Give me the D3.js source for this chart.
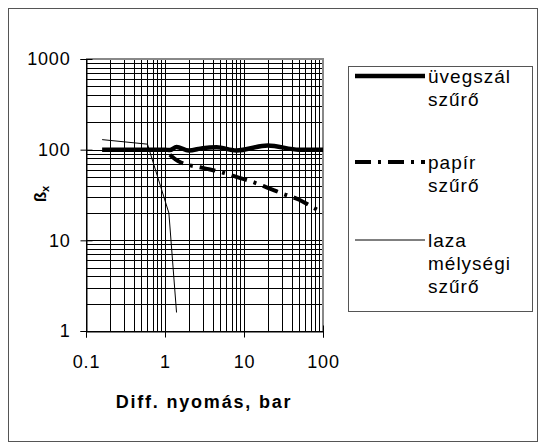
<!DOCTYPE html>
<html>
<head>
<meta charset="utf-8">
<script src="https://cdn.jsdelivr.net/npm/d3@7"></script>
<style>
  body { margin: 0; background: #fff; }
  text { font-family: "Liberation Sans", Arial, sans-serif; }
</style>
</head>
<body>
<div class="chart"></div>
<script>
// data
const xTickLabels = [0.1, 1, 10, 100];
const yTickLabels = [1, 10, 100, 1000];

const glassX = [0.16, 1, 1.15, 1.4, 2, 3, 4.5, 8, 20, 50, 100];
const glassY = [100, 100, 99, 107, 98, 104, 106, 98, 111, 100, 100];

const paperX = [1.15, 1.5, 3, 5, 8, 12, 20, 30, 50, 75, 100];
const paperY = [88, 74, 63, 57, 50, 45, 38, 33, 28, 23, 20];

const depthX = [0.16, 0.6, 1.12, 1.4];
const depthY = [129, 115, 20, 1.6];

const seriesNames = [["üvegszál", "szűrő"], ["papír", "szűrő"], ["laza", "mélységi", "szűrő"]];

const svg = d3.select(".chart")
  .append("svg")
  .attr("width", 539)
  .attr("height", 448);

// outer frame
svg.append("rect")
  .attr("x", 8.5).attr("y", 8.5)
  .attr("width", 529).attr("height", 433)
  .attr("fill", "none")
  .attr("stroke", "#555")
  .attr("stroke-width", 1);

const x = d3.scaleLog().domain([0.1, 100]).range([86, 323]);
const y = d3.scaleLog().domain([1, 1000]).range([331, 59]);

// grid lines (major + minor)
svg.append("g")
  .selectAll("line")
  .data(x.ticks())
  .join("line")
  .attr("x1", d => Math.round(x(d)) + 0.5)
  .attr("x2", d => Math.round(x(d)) + 0.5)
  .attr("y1", y(1000))
  .attr("y2", y(1))
  .attr("stroke", "#000")
  .attr("stroke-width", 1);

svg.append("g")
  .selectAll("line")
  .data(y.ticks())
  .join("line")
  .attr("y1", d => Math.round(y(d)) + 0.5)
  .attr("y2", d => Math.round(y(d)) + 0.5)
  .attr("x1", x(0.1))
  .attr("x2", x(100))
  .attr("stroke", "#000")
  .attr("stroke-width", 1);

// plot border top/right in grey
svg.append("path")
  .attr("d", `M${x(0.1)},${y(1000)}H${x(100)}V${y(1)}`)
  .attr("fill", "none")
  .attr("stroke", "#888")
  .attr("stroke-width", 2);

// axes
const xAxis = svg.append("g")
  .attr("transform", `translate(0,${Math.round(y(1)) + 0.5})`)
  .call(d3.axisBottom(x).tickValues(xTickLabels).tickFormat(d => d).tickSize(6).tickPadding(18));
xAxis.select(".domain").attr("stroke", "#000");
xAxis.selectAll(".tick line").attr("y1", -6);
xAxis.selectAll("text").style("font-size", "18px").attr("fill", "#000").style("letter-spacing", "0.8px");

const yAxis = svg.append("g")
  .attr("transform", `translate(${Math.round(x(0.1)) + 0.5},0)`)
  .call(d3.axisLeft(y).tickValues(yTickLabels).tickFormat(d => d).tickSize(6).tickPadding(10));
yAxis.select(".domain").attr("stroke", "#000");
yAxis.selectAll(".tick line").attr("x1", 6);
yAxis.selectAll("text").style("font-size", "18px").attr("fill", "#000").style("letter-spacing", "0.8px");

// axis titles
svg.append("text")
  .attr("x", 204)
  .attr("y", 408)
  .attr("text-anchor", "middle")
  .style("font-size", "18px")
  .style("font-weight", "bold")
  .style("letter-spacing", "1.8px")
  .text("Diff. nyomás, bar");

const yTitle = svg.append("text")
  .attr("transform", "translate(46,194) rotate(-90)")
  .attr("text-anchor", "middle")
  .style("font-size", "17px")
  .style("font-weight", "bold");
yTitle.append("tspan").text("ß");
yTitle.append("tspan").attr("dy", 3).style("font-size", "11px").text("x");

// series
const line = d3.line().x(d => x(d[0])).y(d => y(d[1])).curve(d3.curveMonotoneX);

svg.append("path")
  .datum(d3.zip(depthX, depthY))
  .attr("d", d3.line().x(d => x(d[0])).y(d => y(d[1])))
  .attr("fill", "none")
  .attr("stroke", "#000")
  .attr("stroke-width", 1);

svg.append("path")
  .datum(d3.zip(paperX, paperY))
  .attr("d", line)
  .attr("fill", "none")
  .attr("stroke", "#000")
  .attr("stroke-width", 4)
  .attr("stroke-dasharray", "16,7,3,7");

svg.append("path")
  .datum(d3.zip(glassX, glassY))
  .attr("d", line)
  .attr("fill", "none")
  .attr("stroke", "#000")
  .attr("stroke-width", 4.5);

// legend
const legend = svg.append("g");
legend.append("rect")
  .attr("x", 348.5).attr("y", 66.5)
  .attr("width", 184).attr("height", 245)
  .attr("fill", "#fff")
  .attr("stroke", "#555")
  .attr("stroke-width", 1);

const legendY = [76, 162, 240];
const legendStyles = [
  { w: 4.5, dash: null },
  { w: 4, dash: "16,7,3,7" },
  { w: 1, dash: null }
];

seriesNames.forEach((lines, i) => {
  legend.append("line")
    .attr("x1", 355).attr("x2", 425)
    .attr("y1", legendY[i]).attr("y2", legendY[i])
    .attr("stroke", "#000")
    .attr("stroke-width", legendStyles[i].w)
    .attr("stroke-dasharray", legendStyles[i].dash);
  const t = legend.append("text")
    .attr("x", 428)
    .attr("y", legendY[i] + 7)
    .style("font-size", "19px")
    .style("letter-spacing", "1px");
  lines.forEach((s, j) => {
    t.append("tspan").attr("x", 428).attr("dy", j === 0 ? 0 : 23).text(s);
  });
});
</script>
</body>
</html>
